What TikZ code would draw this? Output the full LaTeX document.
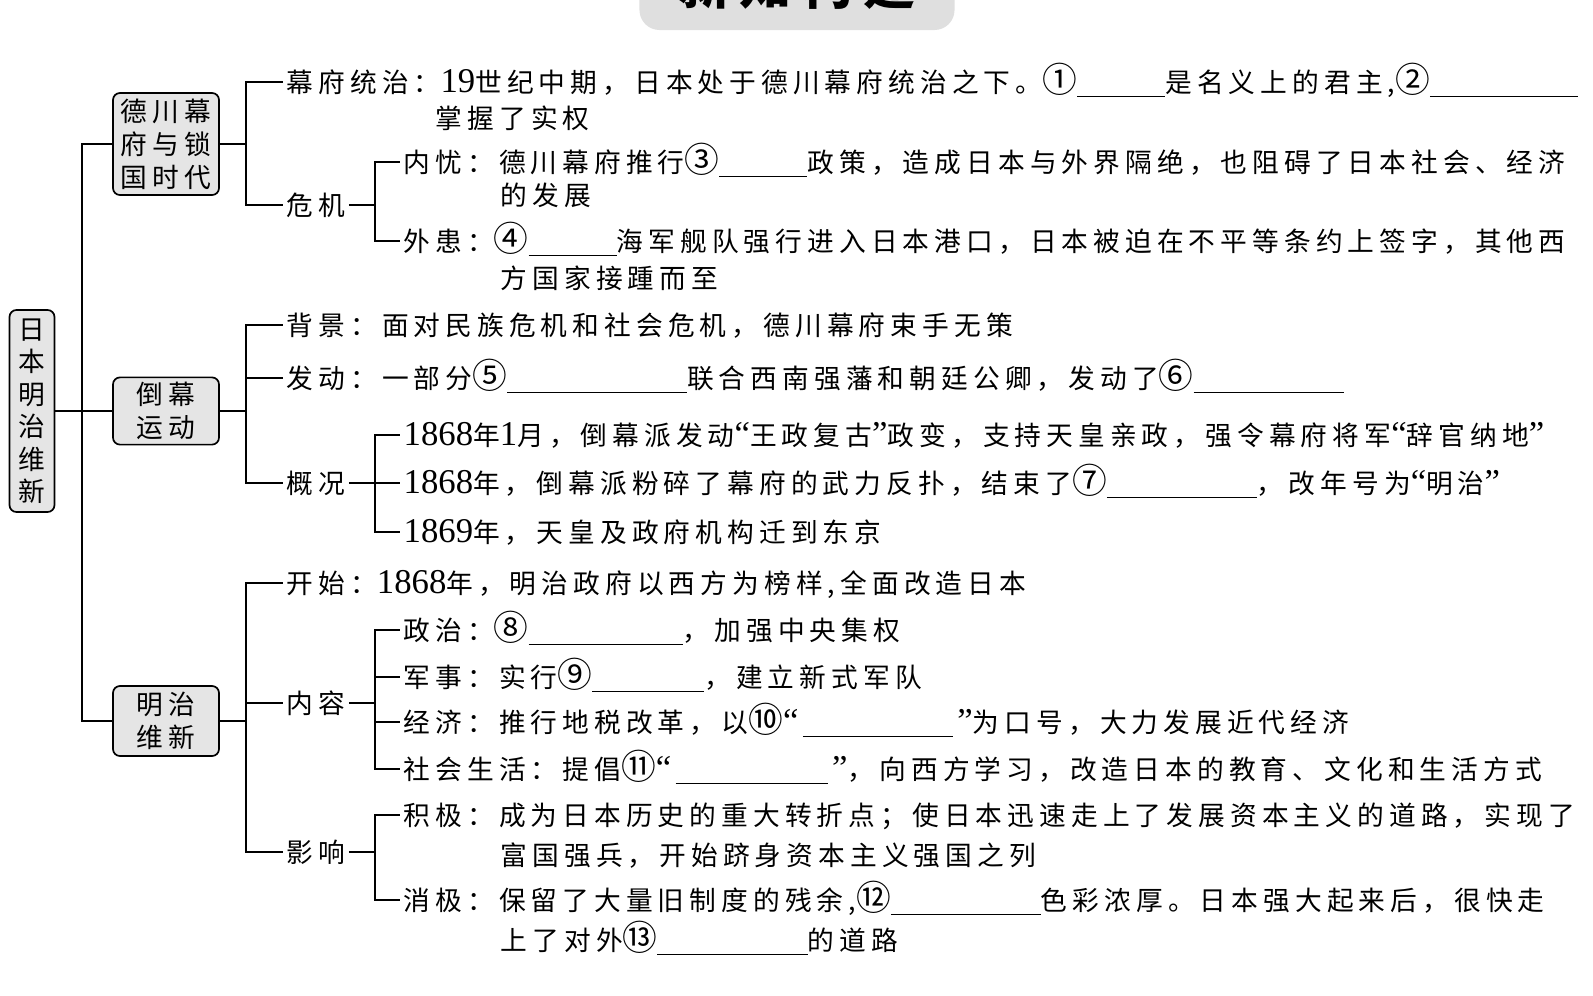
\documentclass[tikz,border=0pt]{standalone}
\usepackage{fontspec}
\setmainfont{Noto Sans CJK SC}[LetterSpace=19]
\newfontfamily\latinfont{Liberation Serif}[Scale=1.3]
\newfontfamily\circfont{Noto Sans CJK SC}[Scale=1.3]
\newcommand\yr[1]{{\latinfont #1}}
\newcommand\no[1]{{\circfont #1}}
\newcommand\blank[1]{\rule[-0.2em]{#1}{0.8pt}}

\begin{document}
\begin{tikzpicture}[x=0.025cm, y=-0.025cm, line width=1.2pt,
  box/.style={draw, rounded corners=5pt, fill=gray!20, align=center, inner sep=0pt},
  txt/.style={anchor=west, inner xsep=2pt, inner ysep=0pt, text height=16.7pt, text depth=2.3pt},
  font=\fontsize{19pt}{23.4pt}\selectfont]

\useasboundingbox (0,0) rectangle (1593,995);

\def\lx{283}
\def\sx{400}
\def\wx{497}

% title, cut at the top
\node[fill=gray!25, rounded corners=0.5cm, minimum width=7.875cm, minimum height=2.25cm,
  font=\fontsize{37pt}{40pt}\selectfont\bfseries] (title) at (797,-15) {新知构建};

% boxes
\node[box, minimum width=1.125cm, minimum height=5.05cm, font=\fontsize{19pt}{23.1pt}\selectfont] (root) at (32,411) {日\\本\\明\\治\\维\\新};
\node[box, minimum width=2.65cm, minimum height=2.55cm] (b1) at (166,144) {德川幕\\府与锁\\国时代};
\node[box, minimum width=2.65cm, minimum height=1.68cm] (b2) at (166,411) {倒幕\\运动};
\node[box, minimum width=2.65cm, minimum height=1.75cm] (b3) at (166,721) {明治\\维新};

\draw (root) -- (b2);
\draw (b1.west) -- ++(-30,0) |- (b3.west);

% 德川幕府与锁国时代
\node[txt] (tongzhi) at (\lx,82) {幕府统治：\yr{19}世纪中期，日本处于德川幕府统治之下。\no{①}\blank{2.2cm}是名义上的君主,\no{②}\blank{3.7cm}};
\node[txt] (tongzhi2) at (432,118) {掌握了实权};
\node[txt] (weiji) at (\lx,205) {危机};
\node[txt] (neiyou) at (\sx,162) {内忧：德川幕府推行\no{③}\blank{2.2cm}政策，造成日本与外界隔绝，也阻碍了日本社会、经济};
\node[txt] (neiyou2) at (\wx,195) {的发展};
\node[txt] (waihuan) at (\sx,241) {外患：\no{④}\blank{2.2cm}海军舰队强行进入日本港口，日本被迫在不平等条约上签字，其他西};
\node[txt] (waihuan2) at (\wx,278) {方国家接踵而至};

\draw (b1.east) -- ++(26,0) coordinate (j1);
\draw (j1) |- (tongzhi.west);
\draw (j1) |- (weiji.west);
\draw (weiji.east) -- ++(26,0) coordinate (j2);
\draw (j2) |- (neiyou.west);
\draw (j2) |- (waihuan.west);

% 倒幕运动
\node[txt] (beijing) at (\lx,325) {背景：面对民族危机和社会危机，德川幕府束手无策};
\node[txt] (fadong) at (\lx,378) {发动：一部分\no{⑤}\blank{4.5cm}联合西南强藩和朝廷公卿，发动了\no{⑥}\blank{3.75cm}};
\node[txt] (gaikuang) at (\lx,483) {概况};
\node[txt] (g1) at (\sx,435) {\yr{1868}年\yr{1}月，倒幕派发动\yr{“}王政复古\yr{”}政变，支持天皇亲政，强令幕府将军\yr{“}辞官纳地\yr{”}};
\node[txt] (g2) at (\sx,483) {\yr{1868}年，倒幕派粉碎了幕府的武力反扑，结束了\no{⑦}\blank{3.75cm}，改年号为\yr{“}明治\yr{”}};
\node[txt] (g3) at (\sx,532) {\yr{1869}年，天皇及政府机构迁到东京};

\draw (b2.east) -- ++(26,0) coordinate (j3);
\draw (j3) |- (beijing.west);
\draw (j3) |- (fadong.west);
\draw (j3) |- (gaikuang.west);
\draw (gaikuang.east) -- ++(26,0) coordinate (j4);
\draw (j4) |- (g1.west);
\draw (j4) -- (g2.west);
\draw (j4) |- (g3.west);

% 明治维新
\node[txt] (kaishi) at (\lx,583) {开始：\yr{1868}年，明治政府以西方为榜样,全面改造日本};
\node[txt] (neirong) at (\lx,703) {内容};
\node[txt] (zhengzhi) at (\sx,630) {政治：\no{⑧}\blank{3.85cm}，加强中央集权};
\node[txt] (junshi) at (\sx,677) {军事：实行\no{⑨}\blank{2.8cm}，建立新式军队};
\node[txt] (jingji) at (\sx,722) {经济：推行地税改革，以\no{⑩}\yr{“}\,\blank{3.75cm}\,\yr{”}为口号，大力发展近代经济};
\node[txt] (shehui) at (\sx,769) {社会生活：提倡\no{⑪}\yr{“}\,\blank{3.8cm}\,\yr{”}，向西方学习，改造日本的教育、文化和生活方式};
\node[txt] (yingxiang) at (\lx,852) {影响};
\node[txt] (jiji) at (\sx,815) {积极：成为日本历史的重大转折点；使日本迅速走上了发展资本主义的道路，实现了};
\node[txt] (jiji2) at (\wx,855) {富国强兵，开始跻身资本主义强国之列};
\node[txt] (xiaoji) at (\sx,900) {消极：保留了大量旧制度的残余,\no{⑫}\blank{3.75cm}色彩浓厚。日本强大起来后，很快走};
\node[txt] (xiaoji2) at (\wx,940) {上了对外\no{⑬}\blank{3.75cm}的道路};

\draw (b3.east) -- ++(26,0) coordinate (j5);
\draw (j5) |- (kaishi.west);
\draw (j5) |- (neirong.west);
\draw (j5) |- (yingxiang.west);
\draw (neirong.east) -- ++(26,0) coordinate (j6);
\draw (j6) |- (zhengzhi.west);
\draw (j6) |- (junshi.west);
\draw (j6) |- (jingji.west);
\draw (j6) |- (shehui.west);
\draw (yingxiang.east) -- ++(26,0) coordinate (j7);
\draw (j7) |- (jiji.west);
\draw (j7) |- (xiaoji.west);

\end{tikzpicture}
\end{document}
